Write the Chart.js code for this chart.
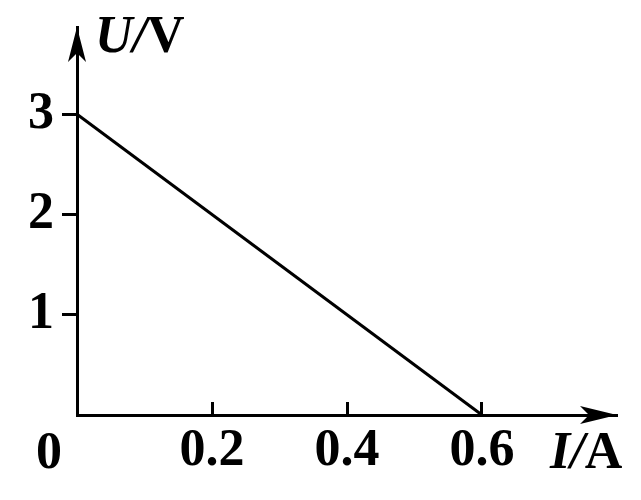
<!DOCTYPE html>
<html>
<head>
<meta charset="utf-8">
<script src="https://cdn.jsdelivr.net/npm/chart.js@4"></script>
<style>
  html, body { margin: 0; padding: 0; background: #fff; }
</style>
</head>
<body>
<canvas id="myChart" width="641" height="500"></canvas>
<script>
// data: U-I line
const currentI = [0, 0.6];
const voltageU = [3, 0];
const xTicks = [0.2, 0.4, 0.6];
const yTicks = [1, 2, 3];
const xMax = 0.8;
const yMax = 3.87;

const serif = '"Liberation Serif", "Times New Roman", serif';

// arrows, axis names and the origin "0"
const axesDeco = {
  id: 'axesDeco',
  afterDraw(chart) {
    const c = chart.ctx;
    const a = chart.chartArea;
    const x0 = chart.scales.x.getPixelForValue(0);
    const y0 = chart.scales.y.getPixelForValue(0);
    c.save();
    c.fillStyle = '#000';

    // x arrow
    c.beginPath();
    c.moveTo(a.right, y0);
    c.lineTo(a.right - 37, y0 - 9);
    c.lineTo(a.right - 28, y0);
    c.lineTo(a.right - 37, y0 + 9);
    c.closePath();
    c.fill();

    // y arrow
    c.beginPath();
    c.moveTo(x0, a.top);
    c.lineTo(x0 - 9, a.top + 35);
    c.lineTo(x0, a.top + 26);
    c.lineTo(x0 + 9, a.top + 35);
    c.closePath();
    c.fill();

    c.textBaseline = 'alphabetic';
    c.textAlign = 'left';

    // U/V
    let tx = x0 + 18, ty = a.top + 25;
    c.font = 'italic bold 52px ' + serif;
    c.fillText('U/', tx, ty);
    tx += c.measureText('U/').width;
    c.font = 'bold 52px ' + serif;
    c.fillText('V', tx, ty);

    // I/A
    tx = 550; ty = y0 + 53;
    c.font = 'italic bold 52px ' + serif;
    c.fillText('I/', tx, ty);
    tx += c.measureText('I/').width;
    c.font = 'bold 52px ' + serif;
    c.fillText('A', tx, ty);

    // origin
    c.font = 'bold 52px ' + serif;
    c.fillText('0', x0 - 41, y0 + 53);
    c.restore();
  }
};

const ctx = document.getElementById('myChart');
var config = {
  type: 'line',
  data: {
    datasets: [{
      data: currentI.map((v, i) => ({ x: v, y: voltageU[i] })),
      borderColor: '#000',
      borderWidth: 3,
      pointRadius: 0,
      clip: false
    }]
  },
  options: {
    responsive: false,
    animation: false,
    layout: { padding: { left: 0, top: 27, right: 24, bottom: 0 } },
    plugins: { legend: { display: false }, tooltip: { enabled: false } },
    scales: {
      x: {
        type: 'linear',
        min: 0,
        max: xMax,
        afterBuildTicks: s => { s.ticks = xTicks.map(v => ({ value: v })); },
        afterFit: s => { s.height = 85; s.paddingLeft = 0; s.paddingRight = 0; },
        border: { display: true, color: '#000', width: 3 },
        grid: { drawOnChartArea: false, drawTicks: true, tickLength: -13, tickWidth: 3, tickColor: '#000' },
        ticks: {
          color: '#000',
          padding: 18,
          maxRotation: 0,
          font: { family: serif, weight: 'bold', size: 52 },
          callback: v => String(v)
        }
      },
      y: {
        type: 'linear',
        min: 0,
        max: yMax,
        afterBuildTicks: s => { s.ticks = yTicks.map(v => ({ value: v })); },
        afterFit: s => { s.width = 77; s.paddingTop = 0; s.paddingBottom = 0; },
        border: { display: true, color: '#000', width: 3 },
        grid: { drawOnChartArea: false, drawTicks: true, tickLength: 15, tickWidth: 3, tickColor: '#000' },
        ticks: {
          color: '#000',
          padding: 8,
          font: { family: serif, weight: 'bold', size: 52 },
          callback: v => String(v)
        }
      }
    }
  },
  plugins: [axesDeco]
};

var myChart = new Chart(ctx, config);
</script>
</body>
</html>
